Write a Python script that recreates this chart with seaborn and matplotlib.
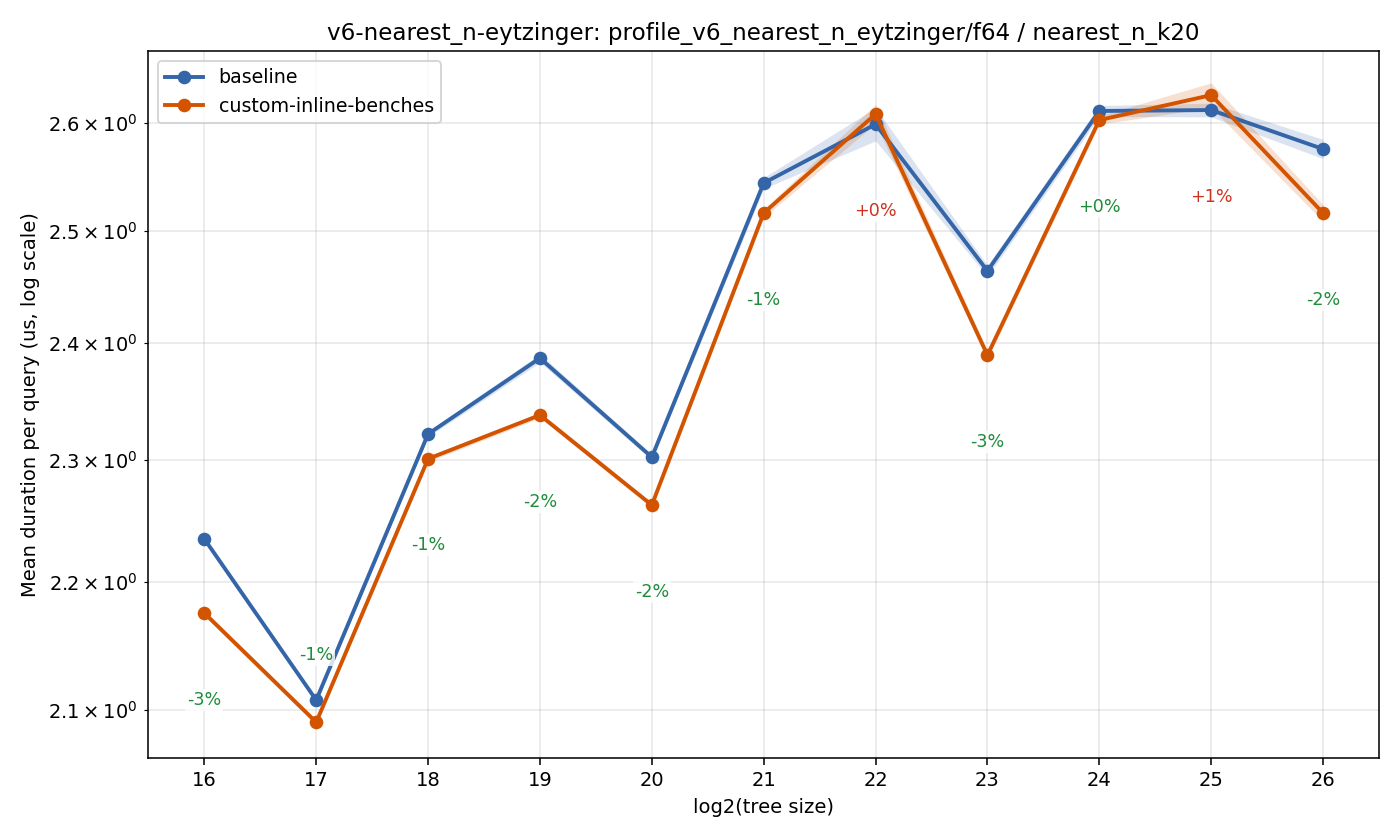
import numpy as np
import pandas as pd
import matplotlib
matplotlib.use("Agg")
import matplotlib.pyplot as plt
import seaborn as sns

# Werte
tree_size = [16, 17, 18, 19, 20, 21, 22, 23, 24, 25, 26]
baseline = [2.235, 2.1077, 2.322, 2.387, 2.3025, 2.544, 2.599, 2.464, 2.6116, 2.6125, 2.5757]
custom = [2.1755, 2.0908, 2.3011, 2.338, 2.2627, 2.5164, 2.6087, 2.3896, 2.603, 2.6267, 2.5164]
# halbe Breite des Konfidenzbands in Prozent
baseline_ci = [0.05, 0.07, 0.1, 0.15, 0.1, 0.2, 0.6, 0.2, 0.2, 0.25, 0.35]
custom_ci = [0.1, 0.1, 0.1, 0.1, 0.1, 0.15, 0.35, 0.15, 0.15, 0.45, 0.3]
delta_labels = ['-3%', '-1%', '-1%', '-2%', '-2%', '-1%', '+0%', '-3%', '+0%', '+1%', '-2%']
delta_better = [True, True, True, True, True, True, False, True, True, False, True]

series_names = ['baseline', 'custom-inline-benches']
colors = {'baseline': '#3465a8', 'custom-inline-benches': '#d35400'}

df = pd.concat([
    pd.DataFrame({'size': tree_size, 'mean': baseline, 'ci': baseline_ci, 'branch': series_names[0]}),
    pd.DataFrame({'size': tree_size, 'mean': custom, 'ci': custom_ci, 'branch': series_names[1]}),
])

fig, ax = plt.subplots(figsize=(10, 6), dpi=140)
fig.subplots_adjust(left=0.106, right=0.985, top=0.939, bottom=0.098)

sns.lineplot(data=df, x='size', y='mean', hue='branch', palette=colors,
             marker='o', markersize=7, markeredgewidth=0, linewidth=2, ax=ax)

for name in series_names:
    d = df[df['branch'] == name]
    lo = d['mean'] * (1 - d['ci'] / 100)
    hi = d['mean'] * (1 + d['ci'] / 100)
    ax.fill_between(d['size'], lo, hi, color=colors[name], alpha=0.18, linewidth=0)

ax.set_yscale('log')
ax.set_xlim(15.5, 26.5)
ax.set_ylim(2.064, 2.669)
ax.set_xticks(tree_size)

# Prozent-Labels unter den Punkten
ybottom = ax.get_ylim()[0]
for x, b, c, lab, good in zip(tree_size, baseline, custom, delta_labels, delta_better):
    y = min(b, c) * 0.969
    if y < ybottom * 1.01:
        y = max(b, c) * 1.0165
    ax.text(x, y, lab, ha='center', va='center', fontsize=9,
            color='#1e8c3a' if good else '#cc3322',
            bbox=dict(facecolor='white', edgecolor='none', alpha=0.8, pad=1))

ax.grid(True, which='both', alpha=0.3)
ax.set_axisbelow(True)
ax.set_xlabel('log2(tree size)')
ax.set_ylabel('Mean duration per query (us, log scale)')
ax.set_title('v6-nearest_n-eytzinger: profile_v6_nearest_n_eytzinger/f64 / nearest_n_k20', fontsize=11.8)
ax.legend(loc='upper left', title=None, fontsize=9.75)

plt.savefig('out.png')
